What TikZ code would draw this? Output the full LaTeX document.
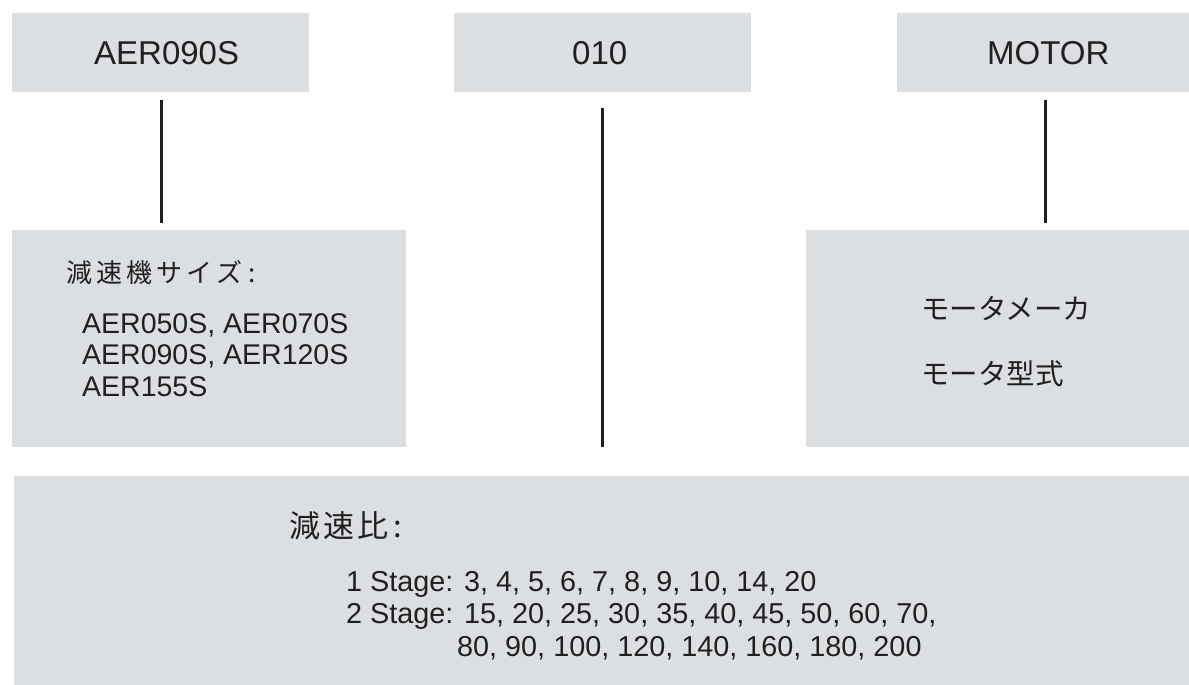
\documentclass[tikz,border=0pt]{standalone}
\usepackage{fontspec}
\setmainfont{Liberation Sans}
\newfontfamily\cjk{Noto Sans CJK JP}
\definecolor{boxgray}{RGB}{220,223,226}
\definecolor{ink}{RGB}{35,31,32}
\newcommand\jgap{\hspace{4pt}}
\tikzset{
  box/.style={fill=boxgray, draw=none, inner sep=0pt, anchor=north west},
  conn/.style={draw=ink, line width=2.6pt},
  txt/.style={inner sep=0pt, anchor=base west, text=ink},
  big/.style={font=\fontsize{33}{33}\selectfont},
  mid/.style={font=\fontsize{28.5}{28.5}\selectfont},
  stg/.style={font=\fontsize{28.8}{28.8}\selectfont},
}
\begin{document}
\begin{tikzpicture}[x=1pt,y=-1pt]
\useasboundingbox (0,0) rectangle (1189,685);
% boxes
\node[box, minimum width=297pt, minimum height=79pt] (tl) at (12,13) {};
\node[box, minimum width=297pt, minimum height=79pt] (tm) at (454,13) {};
\node[box, minimum width=292pt, minimum height=79pt] (tr) at (897,13) {};
\node[box, minimum width=394pt, minimum height=217pt] (ml) at (12,230) {};
\node[box, minimum width=383pt, minimum height=217pt] (mr) at (806,230) {};
\node[box, minimum width=1175pt, minimum height=209pt] (bot) at (14,476) {};
% connectors
\draw[conn, shorten <=8pt, shorten >=7pt] ([xshift=0.5pt]tl.south) -- ([xshift=0.5pt]tl.south |- ml.north);
\draw[conn, shorten <=16pt, shorten >=29pt] ([xshift=-0.5pt]tm.south) -- ([xshift=-0.5pt]tm.south |- bot.north);
\draw[conn, shorten <=8pt, shorten >=7pt] ([xshift=2pt]tr.south) -- ([xshift=2pt]tr.south |- mr.north);
% top labels
\node[txt, big] (t1) at (94,65) {AER090S};
\node[txt, big] (t2) at (572,65) {010};
\node[txt, big] (t3) at (987,65) {MOTOR};
% left box
\node[txt, font=\fontsize{26}{26}\selectfont\cjk] (l0) at (66,282.5) {減\jgap 速\jgap 機\jgap サ\jgap イ\jgap ズ\hspace{6pt}:};
\node[txt, mid] (l1) at (82,333) {AER050S, AER070S};
\node[txt, mid] (l2) at (82,364.5) {AER090S, AER120S};
\node[txt, mid] (l3) at (82,396.5) {AER155S};
% right box
\node[txt, font=\fontsize{28.5}{28.5}\selectfont\cjk] (r1) at (921,319) {モータメーカ};
\node[txt, font=\fontsize{28.5}{28.5}\selectfont\cjk] (r2) at (921,384) {モータ型式};
% bottom box
\node[txt, font=\fontsize{31}{31}\selectfont\cjk] (b0) at (289,537) {減\hspace{3pt}速\hspace{3pt}比\hspace{5pt}:};
\node[txt, stg] (b1) at (346,591.5) {1 Stage: 3, 4, 5, 6, 7, 8, 9, 10, 14, 20};
\node[txt, stg] (b2) at (346,623) {2 Stage: 15, 20, 25, 30, 35, 40, 45, 50, 60, 70,};
\node[txt, stg] (b3) at (457,656.5) {80, 90, 100, 120, 140, 160, 180, 200};
\end{tikzpicture}
\end{document}
